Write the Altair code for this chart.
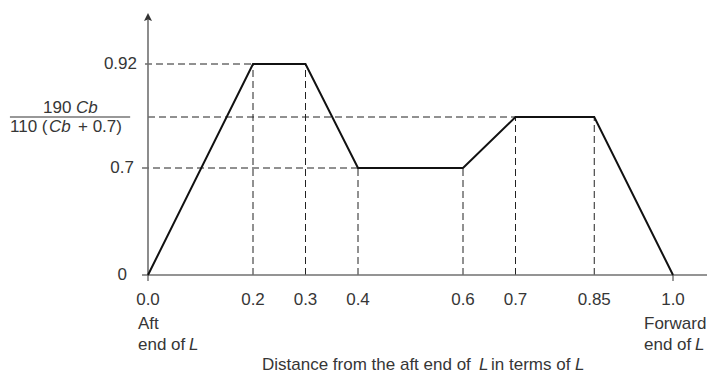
import altair as alt
import pandas as pd

# symbolic level of the 190Cb / (110 (Cb + 0.7)) plateau
F = 0.82

profile_x = [0.0, 0.2, 0.3, 0.4, 0.6, 0.7, 0.85, 1.0]
profile_y = [0.0, 0.92, 0.92, 0.7, 0.7, F, F, 0.0]

x_ticks = [0.0, 0.2, 0.3, 0.4, 0.6, 0.7, 0.85, 1.0]
x_tick_labels = ["0.0", "0.2", "0.3", "0.4", "0.6", "0.7", "0.85", "1.0"]

guide_v_x = [0.2, 0.3, 0.4, 0.6, 0.7, 0.85]
guide_v_top = [0.92, 0.92, 0.7, 0.7, F, F]

guide_h_y = [0.92, F, 0.7]
guide_h_start = [-0.0057, 0.0, -0.0114]
guide_h_end = [0.2, 0.7, 0.4]

FONT = "Liberation Sans"
TXT = "#363636"
SIZE = 17

xs = alt.Scale(domain=[0, 1], range=[140, 665], zero=False, nice=False)
ys = alt.Scale(domain=[0, 0.7, F, 0.92, 1.1], range=[267, 160, 109, 56, 9],
               zero=False, nice=False)


def X(field="x"):
    return alt.X(f"{field}:Q", scale=xs, axis=None)


def Y(field="y"):
    return alt.Y(f"{field}:Q", scale=ys, axis=None)


def txt(x, y, text, dx=0, dy=0, align="center", italic=False, size=SIZE):
    df = pd.DataFrame({"x": [x], "y": [y], "t": [text]})
    return alt.Chart(df).mark_text(
        dx=dx, dy=dy, align=align, baseline="middle", font=FONT, fontSize=size,
        fontStyle="italic" if italic else "normal", color=TXT
    ).encode(x=X(), y=Y(), text="t:N")


# dashed guides
vdf = pd.DataFrame({"x": guide_v_x, "y": [0.0] * len(guide_v_x), "y2": guide_v_top})
vguides = alt.Chart(vdf).mark_rule(color="#222222", strokeWidth=1, strokeDash=[7, 4]).encode(
    x=X(), y=Y(), y2="y2:Q")
hdf = pd.DataFrame({"x": guide_h_start, "x2": guide_h_end, "y": guide_h_y})
hguides = alt.Chart(hdf).mark_rule(color="#222222", strokeWidth=1, strokeDash=[7, 4]).encode(
    x=X(), x2="x2:Q", y=Y())

# axes
xaxis = alt.Chart(pd.DataFrame({"x": [-0.0114], "x2": [1.0648], "y": [0.0]})).mark_rule(
    color="#707070", strokeWidth=1.6).encode(x=X(), x2="x2:Q", y=Y())
yaxis = alt.Chart(pd.DataFrame({"x": [0.0], "y": [0.0], "y2": [1.09]})).mark_rule(
    color="#707070", strokeWidth=1.6).encode(x=X(), y=Y(), y2="y2:Q")
bticks = alt.Chart(pd.DataFrame({"x": [0.0, 1.0], "y": [0.0, 0.0], "y2": [-0.04, -0.04]})).mark_rule(
    color="#555555", strokeWidth=1.2).encode(x=X(), y=Y(), y2="y2:Q")
arrow = alt.Chart(pd.DataFrame({"x": [0.0], "y": [1.1]})).mark_point(
    shape="M0,-1L-1,1L0,0.6L1,1Z", size=64, filled=True, color="#333333", opacity=1,
    strokeWidth=0).encode(x=X(), y=Y())

# profile
pdf = pd.DataFrame({"x": profile_x, "y": profile_y, "o": list(range(len(profile_x)))})
profile = alt.Chart(pdf).mark_line(color="#111111", strokeWidth=2, strokeJoin="miter").encode(
    x=X(), y=Y(), order="o:Q")

# x tick labels
xl = pd.DataFrame({"x": x_ticks, "y": [0.0] * len(x_ticks), "t": x_tick_labels})
xlabels = alt.Chart(xl).mark_text(dy=25, align="center", baseline="middle", font=FONT,
                                  fontSize=SIZE, color=TXT).encode(x=X(), y=Y(), text="t:N")

layers = [
    vguides, hguides, xaxis, yaxis, bticks, profile, arrow, xlabels,
    # y labels
    txt(0, 0.92, "0.92", dx=-11, align="right"),
    txt(0, 0.7, "0.7", dx=-14, align="right"),
    txt(0, 0.0, "0", dx=-21, align="right"),
    # fraction label
    txt(0, F, "190", dx=-105, dy=-9, align="left"),
    txt(0, F, "Cb", dx=-72, dy=-9, align="left", italic=True),
    txt(0, F, "110 (", dx=-138, dy=10, align="left"),
    txt(0, F, "Cb", dx=-99, dy=10, align="left", italic=True),
    txt(0, F, "+ 0.7)", dx=-70, dy=10, align="left"),
    alt.Chart(pd.DataFrame({"x": [-0.263], "x2": [-0.034], "y": [F]})).mark_rule(
        color="#333333", strokeWidth=1.2).encode(x=X(), x2="x2:Q", y=Y()),
    # end labels
    txt(0, 0, "Aft", dx=-10, dy=49, align="left"),
    txt(0, 0, "end of", dx=-10, dy=70, align="left"),
    txt(0, 0, "L", dx=41, dy=70, align="left", italic=True),
    txt(1.0, 0, "Forward", dx=-29, dy=49, align="left"),
    txt(1.0, 0, "end of", dx=-29, dy=70, align="left"),
    txt(1.0, 0, "L", dx=22, dy=70, align="left", italic=True),
    # axis title
    txt(0, 0, "Distance from the aft end of", dx=114, dy=90, align="left"),
    txt(0, 0, "L", dx=331, dy=90, align="left", italic=True),
    txt(0, 0, "in terms of", dx=343, dy=90, align="left"),
    txt(0, 0, "L", dx=427, dy=90, align="left", italic=True),
]

chart = alt.layer(*layers).properties(
    width=699, height=366,
    autosize=alt.AutoSizeParams(type="none"),
    padding=0,
).configure(background="white", view=alt.ViewConfig(stroke=None))

chart.save("out.html", embed_options={"renderer": "svg", "actions": False})
